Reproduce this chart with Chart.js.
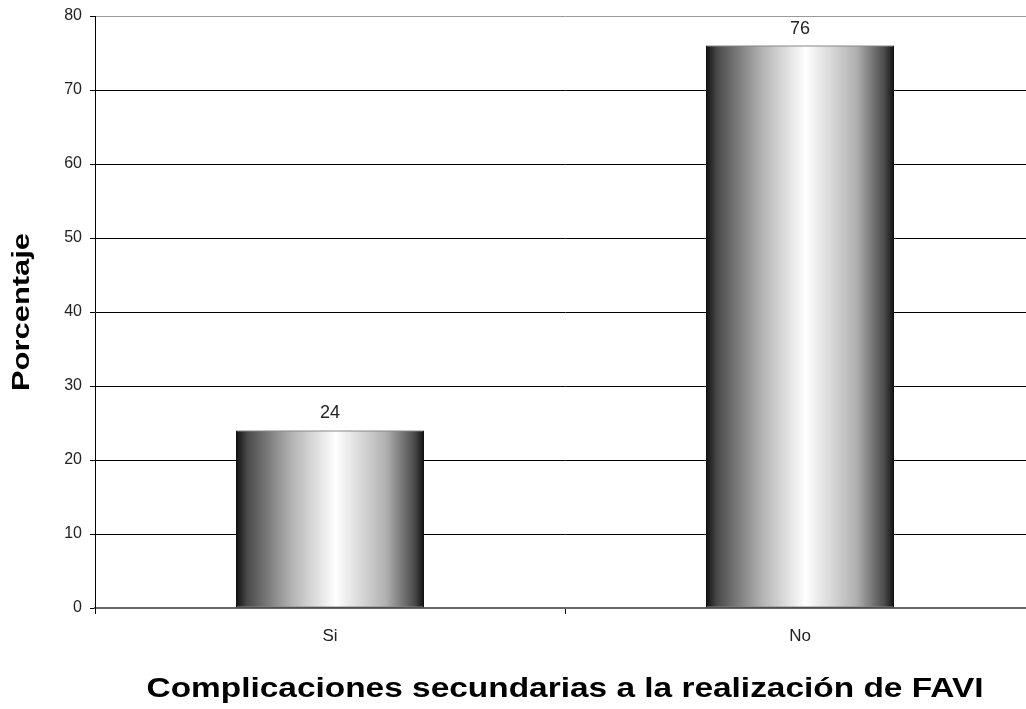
<!DOCTYPE html>
<html lang="es">
<head>
<meta charset="utf-8" />
<title>Complicaciones secundarias</title>
<script src="https://cdnjs.cloudflare.com/ajax/libs/Chart.js/4.4.0/chart.umd.js"></script>
<style>
    html, body { margin: 0; padding: 0; background: #fff; overflow: hidden; }
    #wrap { width: 1040px; height: 709px; }
</style>
</head>
<body>
<div id="wrap"><canvas id="chart" width="1040" height="709"></canvas></div>
<script>
    const categories = ['Si', 'No'];
    const values = [24, 76];
    const yTicks = [0, 10, 20, 30, 40, 50, 60, 70, 80];
    const xTitle = 'Complicaciones secundarias a la realización de FAVI';
    const yTitle = 'Porcentaje';
    const barPct = 0.4;

    // horizontal metallic gradient per bar, placed from the x scale
    function barFill(context) {
        const chart = context.chart;
        const xs = chart.scales.x;
        if (!chart.chartArea || !xs) return '#888';
        const cx = xs.getPixelForValue(context.dataIndex);
        const half = (xs.width / categories.length) * barPct / 2;
        if (!isFinite(cx) || !isFinite(half) || half <= 0) return '#888';
        const g = chart.ctx.createLinearGradient(cx - half, 0, cx + half, 0);
        g.addColorStop(0, '#111');
        g.addColorStop(0.06, '#4a4a4a');
        g.addColorStop(0.3, '#b4b4b4');
        g.addColorStop(0.53, '#ffffff');
        g.addColorStop(0.8, '#b0b0b0');
        g.addColorStop(0.95, '#4a4a4a');
        g.addColorStop(1, '#111');
        return g;
    }

    const valueLabels = {
        id: 'valueLabels',
        afterDatasetsDraw(chart) {
            const ctx = chart.ctx;
            ctx.save();
            ctx.font = '18px "Liberation Sans", Arial, sans-serif';
            ctx.fillStyle = '#222';
            ctx.textAlign = 'center';
            ctx.textBaseline = 'alphabetic';
            chart.getDatasetMeta(0).data.forEach((bar, i) => {
                ctx.fillText(String(values[i]), bar.x, bar.y - 12);
            });
            ctx.restore();
        }
    };

    // wide bold axis titles, stretched like the original
    const axisTitles = {
        id: 'axisTitles',
        afterDraw(chart) {
            const ctx = chart.ctx;
            const area = chart.chartArea;
            ctx.save();
            ctx.fillStyle = '#000';
            ctx.textAlign = 'center';
            ctx.textBaseline = 'alphabetic';

            ctx.font = 'bold 27px "Liberation Sans", Arial, sans-serif';
            let w = ctx.measureText(xTitle).width;
            ctx.save();
            ctx.translate((area.left + area.right) / 2, 697);
            ctx.scale(837 / w, 1);
            ctx.fillText(xTitle, 0, 0);
            ctx.restore();

            ctx.font = 'bold 23px "Liberation Sans", Arial, sans-serif';
            w = ctx.measureText(yTitle).width;
            ctx.save();
            ctx.translate(29, (area.top + area.bottom) / 2);
            ctx.rotate(-Math.PI / 2);
            ctx.scale(158 / w, 1);
            ctx.fillText(yTitle, 0, 0);
            ctx.restore();

            ctx.restore();
        }
    };

    new Chart(document.getElementById('chart'), {
        type: 'bar',
        data: {
            labels: categories,
            datasets: [{
                data: values,
                backgroundColor: barFill,
                borderColor: '#111',
                borderWidth: 1,
                borderSkipped: false,
                barPercentage: barPct,
                categoryPercentage: 1
            }]
        },
        options: {
            responsive: false,
            animation: false,
            layout: { padding: { top: 15, right: 5, left: 0, bottom: 0 } },
            plugins: { legend: { display: false }, tooltip: { enabled: false } },
            scales: {
                x: {
                    offset: true,
                    grid: { offset: true, drawOnChartArea: false, color: '#000', tickLength: 6 },
                    border: { color: '#666', width: 2 },
                    ticks: { color: '#222', padding: 12, font: { family: '"Liberation Sans", Arial', size: 17 } },
                    afterFit(scale) { scale.height = 101; }
                },
                y: {
                    min: 0,
                    max: 80,
                    afterBuildTicks(scale) { scale.ticks = yTicks.map(v => ({ value: v })); },
                    grid: {
                        color: ctx => ctx.tick && ctx.tick.value === 80 ? '#999' : '#000',
                        tickColor: '#000',
                        tickLength: 5
                    },
                    border: { color: '#000', width: 1 },
                    ticks: { color: '#222', padding: 8, font: { family: '"Liberation Sans", Arial', size: 16, lineHeight: 1 } },
                    afterFit(scale) { scale.width = 95; }
                }
            }
        },
        plugins: [valueLabels, axisTitles]
    });
</script>
</body>
</html>
